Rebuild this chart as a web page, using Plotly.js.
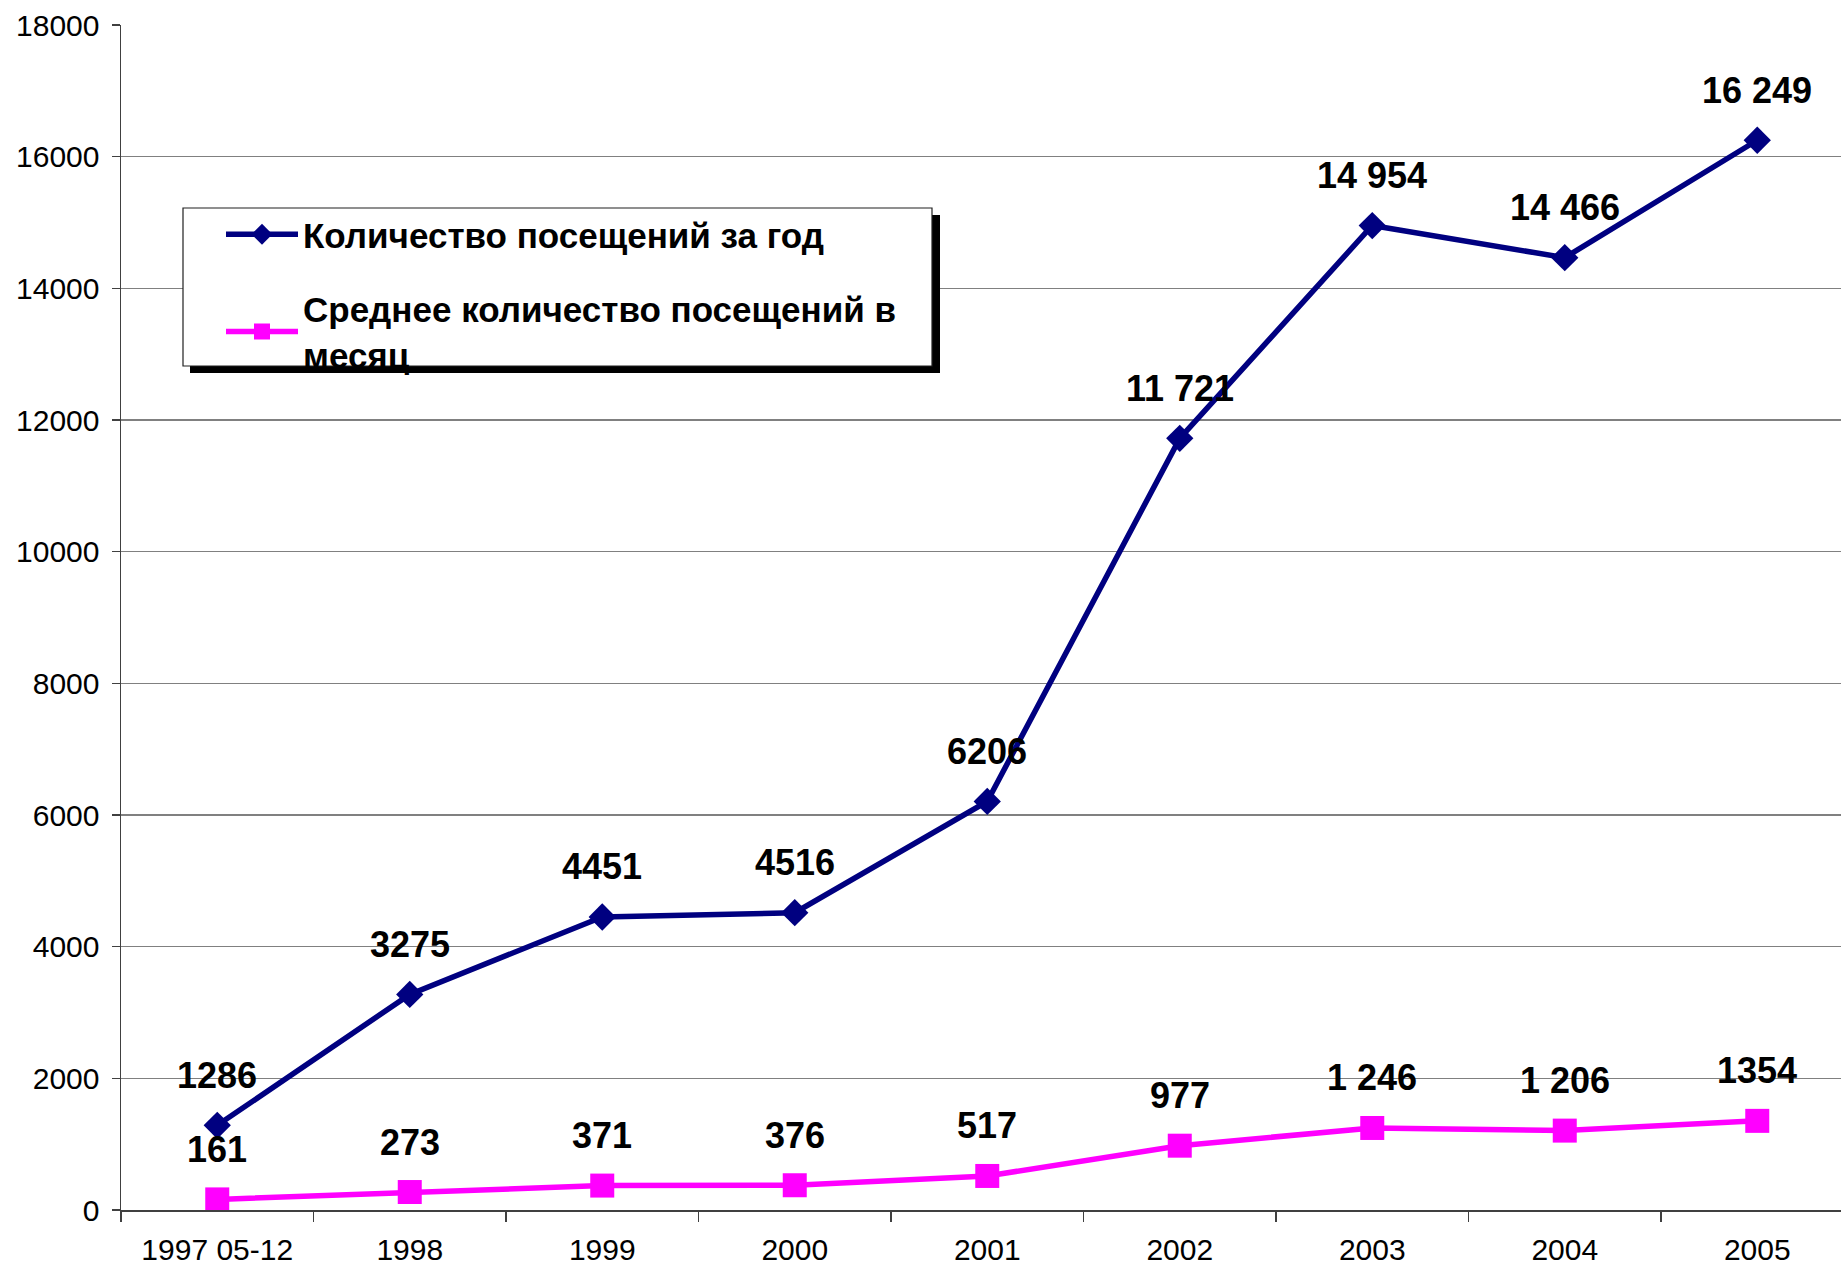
<!DOCTYPE html>
<html>
<head>
<meta charset="utf-8">
<script src="https://cdn.plot.ly/plotly-3.0.1.min.js"></script>
<style>
html,body{margin:0;padding:0;background:#fff;}
#chart{width:1841px;height:1267px;}
</style>
</head>
<body>
<div id="chart"></div>
<script>
const categories = ["1997 05-12","1998","1999","2000","2001","2002","2003","2004","2005"];
const yearVisits = [1286, 3275, 4451, 4516, 6206, 11721, 14954, 14466, 16249];
const monthVisits = [161, 273, 371, 376, 517, 977, 1246, 1206, 1354];
const yearLabels = ["1286","3275","4451","4516","6206","11 721","14 954","14 466","16 249"];
const monthLabels = ["161","273","371","376","517","977","1 246","1 206","1354"];
const seriesNames = ["Количество посещений за год","Среднее количество посещений в<br>месяц"];

const FONT = "Liberation Sans, Arial, sans-serif";
// plot area in pixels (for paper-coordinate helpers)
const PL = 121, PW = 1720, PT = 25, PH = 1185;
const px = v => (v - PL) / PW;
const py = v => (PT + PH - v) / PH;

const traces = [
  {
    x: categories, y: yearVisits, name: seriesNames[0], type: "scatter", mode: "lines+markers",
    legendgroup: "a",
    line: {color: "#000080", width: 5.5},
    marker: {symbol: "diamond", size: 21, color: "#000080", line: {width: 0}}
  },
  {
    x: categories, y: monthVisits, name: seriesNames[1], type: "scatter", mode: "lines+markers",
    legendgroup: "b",
    line: {color: "#FF00FF", width: 5.5},
    marker: {symbol: "square", size: 24, color: "#FF00FF", line: {width: 0}}
  }
];

const annotations = [];
categories.forEach((c, i) => {
  annotations.push({x: i, y: yearVisits[i], text: yearLabels[i], showarrow: false, yshift: 50,
    font: {family: FONT, size: 36, color: "#000", weight: "bold"}});
  annotations.push({x: i, y: monthVisits[i], text: monthLabels[i], showarrow: false, yshift: 50,
    font: {family: FONT, size: 36, color: "#000", weight: "bold"}});
});

const layout = {
  width: 1841, height: 1267,
  margin: {l: PL, r: 0, t: PT, b: 1267 - PT - PH},
  paper_bgcolor: "#fff", plot_bgcolor: "#fff",
  showlegend: true,
  legend: {
    x: px(221), y: py(205), xanchor: "left", yanchor: "top",
    bgcolor: "rgba(0,0,0,0)", borderwidth: 0,
    font: {family: FONT, size: 35, color: "#000", weight: "bold"},
    tracegroupgap: 26, itemwidth: 72
  },
  xaxis: {
    type: "category", range: [-0.5, 8.435],
    showgrid: false, showline: true, linecolor: "#404040", linewidth: 1.5,
    ticks: "outside", tickson: "boundaries", ticklen: 10, tickcolor: "#404040", tickwidth: 1.5,
    ticklabelstandoff: 12,
    tickfont: {family: FONT, size: 30, color: "#000"},
    zeroline: false, fixedrange: true
  },
  yaxis: {
    range: [0, 18000], dtick: 2000, tick0: 0, tickformat: "d",
    showgrid: true, gridcolor: "#808080", gridwidth: 1.5,
    showline: true, linecolor: "#404040", linewidth: 1.5,
    ticks: "outside", ticklen: 8, tickcolor: "#404040", tickwidth: 1.5,
    ticklabelstandoff: 6,
    tickfont: {family: FONT, size: 30, color: "#000"},
    zeroline: false, fixedrange: true
  },
  shapes: [
    {type: "rect", xref: "paper", yref: "paper", layer: "above",
     x0: px(190), x1: px(940), y0: py(373), y1: py(215),
     fillcolor: "#000", line: {width: 0}},
    {type: "rect", xref: "paper", yref: "paper", layer: "above",
     x0: px(183), x1: px(932), y0: py(366), y1: py(208),
     fillcolor: "#fff", line: {color: "#202020", width: 1.2}}
  ],
  annotations: annotations
};

Plotly.newPlot("chart", traces, layout, {staticPlot: true});
</script>
</body>
</html>
